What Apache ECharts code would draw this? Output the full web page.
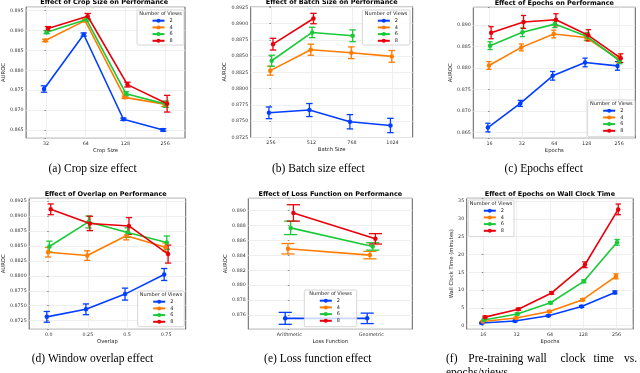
<!DOCTYPE html>
<html>
<head>
<meta charset="utf-8">
<script src="https://cdn.jsdelivr.net/npm/echarts@6/dist/echarts.min.js"></script>
<style>
  html, body { margin: 0; padding: 0; background: #fff; }
  #chart { width: 640px; height: 373px; }
</style>
</head>
<body>
<div id="chart"></div>
<script>
// number of views (hue)
const views = ['2', '4', '6', '8'];

// (a) crop size
const cropSizes = ['32', '64', '128', '256'];
const cropMean = [
  [0.8753, 0.8890, 0.8677, 0.8650],
  [0.8875, 0.8925, 0.8732, 0.8715],
  [0.8896, 0.8928, 0.8741, 0.8715],
  [0.8905, 0.8936, 0.8764, 0.8716]
];
const cropErr = [
  [0.0008, 0.0004, 0.0003, 0.0003],
  [0.0003, 0.0003, 0.0003, 0.0006],
  [0.0004, 0.0004, 0.0005, 0.0008],
  [0.0005, 0.0007, 0.0006, 0.0021]
];

// (b) batch size
const batchSizes = ['256', '512', '768', '1024'];
const batchMean = [
  [0.87628, 0.87670, 0.87490, 0.87433],
  [0.88276, 0.88597, 0.88551, 0.88495],
  [0.88428, 0.88863, 0.88812, null],
  [0.88683, 0.89077, null, null]
];
const batchErr = [
  [0.0009, 0.0010, 0.0011, 0.0011],
  [0.0007, 0.00085, 0.0009, 0.0009],
  [0.00085, 0.0008, 0.0009, null],
  [0.0009, 0.0008, null, null]
];

// (c) epochs
const epochList = ['16', '32', '64', '128', '256'];
const epochMean = [
  [0.8662, 0.8718, 0.8782, 0.8813, 0.8805],
  [0.8806, 0.8848, 0.8879, 0.8871, 0.8821],
  [0.8852, 0.8883, 0.8902, 0.8873, 0.8817],
  [0.8882, 0.8907, 0.8912, 0.8876, 0.8823]
];
const epochErr = [
  [0.0010, 0.0007, 0.0010, 0.0010, 0.0010],
  [0.0009, 0.0008, 0.0009, 0.0007, 0.0008],
  [0.0009, 0.0010, 0.0008, 0.0009, 0.0007],
  [0.0014, 0.0015, 0.0014, 0.0013, 0.0010]
];

// (d) window overlap
const overlapList = ['0.0', '0.25', '0.5', '0.75'];
const overlapMean = [
  [0.87314, 0.87440, 0.87694, 0.88022],
  [0.88394, 0.88338, 0.88670, 0.88478],
  [0.88489, 0.88900, 0.88722, 0.88555],
  [0.89111, 0.88875, 0.88833, 0.88363]
];
const overlapErr = [
  [0.0009, 0.0009, 0.0010, 0.0010],
  [0.0008, 0.0008, 0.0007, 0.0007],
  [0.0009, 0.0010, 0.0008, 0.0011],
  [0.0009, 0.0012, 0.0014, 0.0015]
];

// (e) loss function
const lossList = ['Arithmetic', 'Geometric'];
const lossMean = [
  [0.87555, 0.87555],
  [0.88489, 0.88404],
  [0.88769, 0.88520],
  [0.88970, 0.88622]
];
const lossErr = [
  [0.0008, 0.0007],
  [0.0007, 0.0005],
  [0.0009, 0.0005],
  [0.0011, 0.0007]
];

// (f) wall clock time (minutes)
const wallEpochs = ['16', '32', '64', '128', '256'];
const wallMean = [
  [0.75, 1.3, 2.8, 5.4, 9.35],
  [1.2, 2.15, 4.0, 7.3, 13.85],
  [1.6, 3.3, 6.45, 12.45, 23.4],
  [2.4, 4.6, 9.2, 17.1, 32.65]
];
const wallErr = [
  [0.2, 0.2, 0.2, 0.25, 0.4],
  [0.2, 0.2, 0.25, 0.3, 0.7],
  [0.2, 0.25, 0.3, 0.4, 0.8],
  [0.3, 0.3, 0.35, 0.8, 1.5]
];

const colors = ['#023eff', '#ff7c00', '#1ac938', '#e8000b'];
const dodge = [-0.05, -0.0167, 0.0167, 0.05];

// layout of each panel: grid [left, top, width, height], y [min, max, step, decimals]
const panels = [
  { title: 'Effect of Crop Size on Performance', cats: cropSizes, mean: cropMean, err: cropErr,
    xName: 'Crop Size', yName: 'AUROC', grid: [23.3, 6.7, 161.7, 131.6], y: [0.8629, 0.8960, 0.005, 3],
    yGap: 17.9, legend: [137, 10, 47, 35] },
  { title: 'Effect of Batch Size on Performance', cats: batchSizes, mean: batchMean, err: batchErr,
    xName: 'Batch Size', yName: 'AUROC', grid: [250.7, 6.5, 162, 131], y: [0.87248, 0.89262, 0.0025, 4],
    yGap: 21.3, legend: [362.3, 10, 47.7, 35] },
  { title: 'Effect of Epochs on Performance', cats: epochList, mean: epochMean, err: epochErr,
    xName: 'Epochs', yName: 'AUROC', grid: [473.3, 7.3, 162, 131], y: [0.8637, 0.8941, 0.005, 3],
    yGap: 18.6, legend: [587.7, 100, 47.3, 36.7] },
  { title: 'Effect of Overlap on Performance', cats: overlapList, mean: overlapMean, err: overlapErr,
    xName: 'Overlap', yName: 'AUROC', grid: [25.7, 198.3, 160, 131], y: [0.87106, 0.89295, 0.0025, 4],
    yGap: 21.3, legend: [137.7, 291, 46.6, 35.7] },
  { title: 'Effect of Loss Function on Performance', cats: lossList, mean: lossMean, err: lossErr,
    xName: 'Loss Function', yName: 'AUROC', grid: [248.3, 198.3, 164, 131], y: [0.87408, 0.89166, 0.002, 3],
    yGap: 18.9, legend: [304.3, 290, 52.4, 36.7] },
  { title: 'Effect of Epochs on Wall Clock Time', cats: wallEpochs, mean: wallMean, err: wallErr,
    xName: 'Epochs', yName: 'Wall Clock Time (minutes)', grid: [466.7, 198.3, 166.5, 131], y: [-1.01, 35.76, 5, 0],
    yGap: 11.7, legend: [468.3, 200, 45.7, 36.7] }
];

const captions = [
  ['(a) Crop size effect', 92.5, 169.3],
  ['(b) Batch size effect', 318.3, 169.3],
  ['(c) Epochs effect', 543.7, 169.3],
  ['(d) Window overlap effect', 92.5, 359.3],
  ['(e) Loss function effect', 317.8, 359.3]
];
// justified caption (f), one word at a time
const captionF = [['(f)', 446], ['Pre-training', 468.3], ['wall', 527], ['clock', 560.5], ['time', 593.5], ['vs.', 624]];

function errRender(color) {
  return function (params, api) {
    const x = api.value(0);
    const lo = api.coord([x, api.value(2)]);
    const hi = api.coord([x, api.value(3)]);
    const cap = api.size([1, 0])[0] * 0.08;
    const style = { stroke: color, lineWidth: 1.3 };
    return {
      type: 'group',
      children: [
        { type: 'line', shape: { x1: lo[0], y1: lo[1], x2: hi[0], y2: hi[1] }, style: style },
        { type: 'line', shape: { x1: lo[0] - cap, y1: lo[1], x2: lo[0] + cap, y2: lo[1] }, style: style },
        { type: 'line', shape: { x1: hi[0] - cap, y1: hi[1], x2: hi[0] + cap, y2: hi[1] }, style: style }
      ]
    };
  };
}

function txt(x, y, text, size, opts) {
  opts = opts || {};
  return {
    type: 'text', x: x, y: y, z: opts.z || 10, silent: true,
    style: {
      text: text, fontSize: size, fontFamily: opts.family || 'DejaVu Sans',
      fontWeight: opts.weight || 'normal', fill: opts.color || '#000',
      align: opts.align || 'center', verticalAlign: 'middle'
    }
  };
}

const grids = [], xAxes = [], yAxes = [], series = [], legends = [], graphics = [];

panels.forEach(function (p, g) {
  const [gl, gt, gw, gh] = p.grid;
  const [ymin, ymax, step, dec] = p.y;
  grids.push({ left: gl, top: gt, width: gw, height: gh, show: true,
    borderColor: '#4d4d4d', borderWidth: 0.9, backgroundColor: '#fff' });

  xAxes.push({
    type: 'category', gridIndex: g, data: p.cats, boundaryGap: true,
    axisLine: { show: false },
    axisTick: { show: false, alignWithLabel: true },
    splitLine: { show: true, alignWithLabel: true, lineStyle: { color: '#ebebeb', width: 0.8 } },
    axisLabel: { fontSize: 4.8, color: '#333', margin: 3 },
    name: p.xName, nameLocation: 'middle', nameGap: 10,
    nameTextStyle: { fontSize: 5.3, color: '#222' }
  });
  xAxes.push({ type: 'value', gridIndex: g, min: -0.5, max: p.cats.length - 0.5, show: false });

  yAxes.push({
    type: 'value', gridIndex: g, min: ymin, max: ymax, minInterval: step, maxInterval: step,
    axisLine: { show: false },
    axisTick: { show: true, length: 1.5, lineStyle: { color: '#444', width: 0.6 } },
    splitLine: { show: true, lineStyle: { color: '#ebebeb', width: 0.8 } },
    axisLabel: {
      fontSize: 4.8, color: '#333', margin: 2.5,
      formatter: function (v) {
        const k = v / step;
        return Math.abs(k - Math.round(k)) < 1e-4 ? v.toFixed(dec) : '';
      }
    },
    name: p.yName, nameLocation: 'middle', nameGap: p.yGap,
    nameTextStyle: { fontSize: 5.3, color: '#222' }
  });

  views.forEach(function (v, k) {
    const pts = [], bars = [];
    p.mean[k].forEach(function (m, i) {
      if (m == null) return;
      const x = i + dodge[k];
      pts.push([x, m]);
      bars.push([x, m, m - p.err[k][i], m + p.err[k][i]]);
    });
    series.push({
      type: 'custom', name: 'err' + v, xAxisIndex: 2 * g + 1, yAxisIndex: g,
      data: bars, encode: { x: 0, y: [2, 3] }, renderItem: errRender(colors[k]),
      silent: true, z: 2 + k * 0.1, clip: false
    });
    series.push({
      type: 'line', name: v, xAxisIndex: 2 * g + 1, yAxisIndex: g, data: pts,
      symbol: 'circle', symbolSize: 4.5, showSymbol: true,
      lineStyle: { width: 1.6, color: colors[k] },
      itemStyle: { color: colors[k] },
      z: 3 + k * 0.1, silent: true
    });
  });

  // panel title
  graphics.push(txt(gl + gw / 2, gt - 4.3, p.title, 6.5, { weight: 'bold', color: '#000' }));

  // legend box
  const [lx, ly, lw, lh] = p.legend;
  graphics.push({
    type: 'rect', z: 15, silent: true,
    shape: { x: lx, y: ly, width: lw, height: lh, r: 1.5 },
    style: { fill: 'rgba(255,255,255,0.8)', stroke: '#cccccc', lineWidth: 0.8 }
  });
  graphics.push(txt(lx + lw / 2, ly + 4, 'Number of Views', 5, { z: 16, color: '#222' }));
  legends.push({
    data: views, orient: 'vertical', left: lx + 14.5, top: ly + 8.2,
    itemWidth: 12, itemHeight: 5, itemGap: 1.7, padding: 0, z: 20,
    textStyle: { fontSize: 5, color: '#222' }, selectedMode: false
  });
});

captions.forEach(function (c) {
  graphics.push(txt(c[1], c[2], c[0], 11.5, { family: 'Liberation Serif' }));
});
captionF.forEach(function (w) {
  graphics.push(txt(w[1], 359.3, w[0], 11.5, { family: 'Liberation Serif', align: 'left' }));
});
graphics.push(txt(446, 372.5, 'epochs/views', 11.5, { family: 'Liberation Serif', align: 'left' }));

const chart = echarts.init(document.getElementById('chart'));
chart.setOption({
  animation: false,
  textStyle: { fontFamily: 'DejaVu Sans' },
  grid: grids,
  xAxis: xAxes,
  yAxis: yAxes,
  legend: legends,
  series: series,
  graphic: { elements: graphics }
});
</script>
</body>
</html>
